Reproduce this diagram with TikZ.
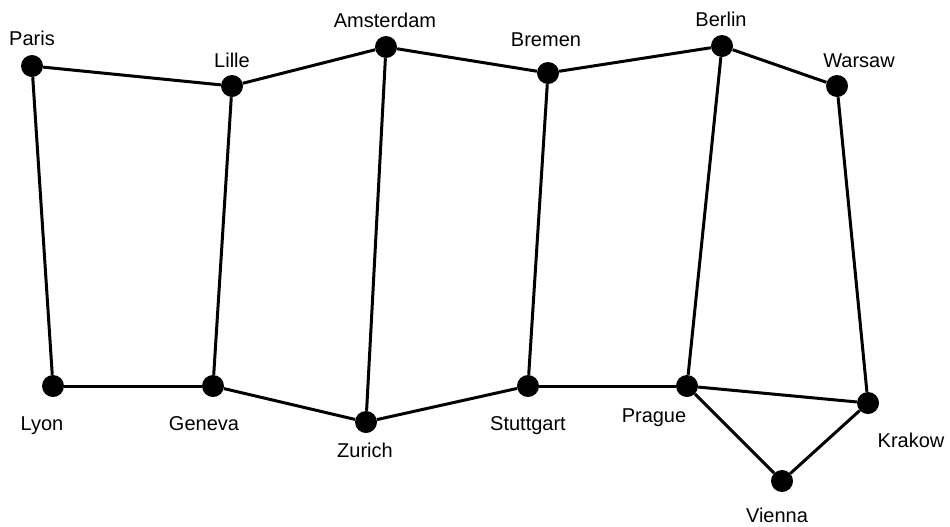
\documentclass[tikz,border=0pt]{standalone}
\usepackage{fontspec}
\setmainfont{Liberation Sans}
\begin{document}
\begin{tikzpicture}[x=0.75pt,y=-0.75pt,
  city/.style={circle,fill=black,inner sep=0pt,minimum size=16.5pt},
  lbl/.style={anchor=base,inner sep=0pt,font=\fontsize{15}{18}\selectfont},
  road/.style={line width=2.25pt}]
\useasboundingbox (0,0) rectangle (950,526);
% cities
\node[city] (paris) at (32,66) {};
\node[city] (lille) at (232,86) {};
\node[city] (amsterdam) at (386,47) {};
\node[city] (bremen) at (548,73) {};
\node[city] (berlin) at (722,46) {};
\node[city] (warsaw) at (837,86) {};
\node[city] (lyon) at (53,386) {};
\node[city] (geneva) at (213,386) {};
\node[city] (zurich) at (366,422) {};
\node[city] (stuttgart) at (528,386) {};
\node[city] (prague) at (687,386) {};
\node[city] (krakow) at (868,403) {};
\node[city] (vienna) at (782,481) {};
% labels
\node[lbl] (lparis) at (32,45) {Paris};
\node[lbl] (llille) at (232,67) {Lille};
\node[lbl] (lamsterdam) at (385,27) {Amsterdam};
\node[lbl] (lbremen) at (546,46) {Bremen};
\node[lbl] (lberlin) at (721,26) {Berlin};
\node[lbl] (lwarsaw) at (859,67) {Warsaw};
\node[lbl] (llyon) at (42,430) {Lyon};
\node[lbl] (lgeneva) at (204,430) {Geneva};
\node[lbl] (lzurich) at (365,457) {Zurich};
\node[lbl] (lstuttgart) at (528,430) {Stuttgart};
\node[lbl] (lprague) at (654,422) {Prague};
\node[lbl] (lkrakow) at (911,447) {Krakow};
\node[lbl] (lvienna) at (777,522) {Vienna};
% roads
\draw[road] (paris) -- (lille);
\draw[road] (lille) -- (amsterdam);
\draw[road] (amsterdam) -- (bremen);
\draw[road] (bremen) -- (berlin);
\draw[road] (berlin) -- (warsaw);
\draw[road] (paris) -- (lyon);
\draw[road] (lille) -- (geneva);
\draw[road] (amsterdam) -- (zurich);
\draw[road] (bremen) -- (stuttgart);
\draw[road] (berlin) -- (prague);
\draw[road] (warsaw) -- (krakow);
\draw[road] (lyon) -- (geneva);
\draw[road] (geneva) -- (zurich);
\draw[road] (zurich) -- (stuttgart);
\draw[road] (stuttgart) -- (prague);
\draw[road] (prague) -- (krakow);
\draw[road] (prague) -- (vienna);
\draw[road] (vienna) -- (krakow);
\end{tikzpicture}
\end{document}
